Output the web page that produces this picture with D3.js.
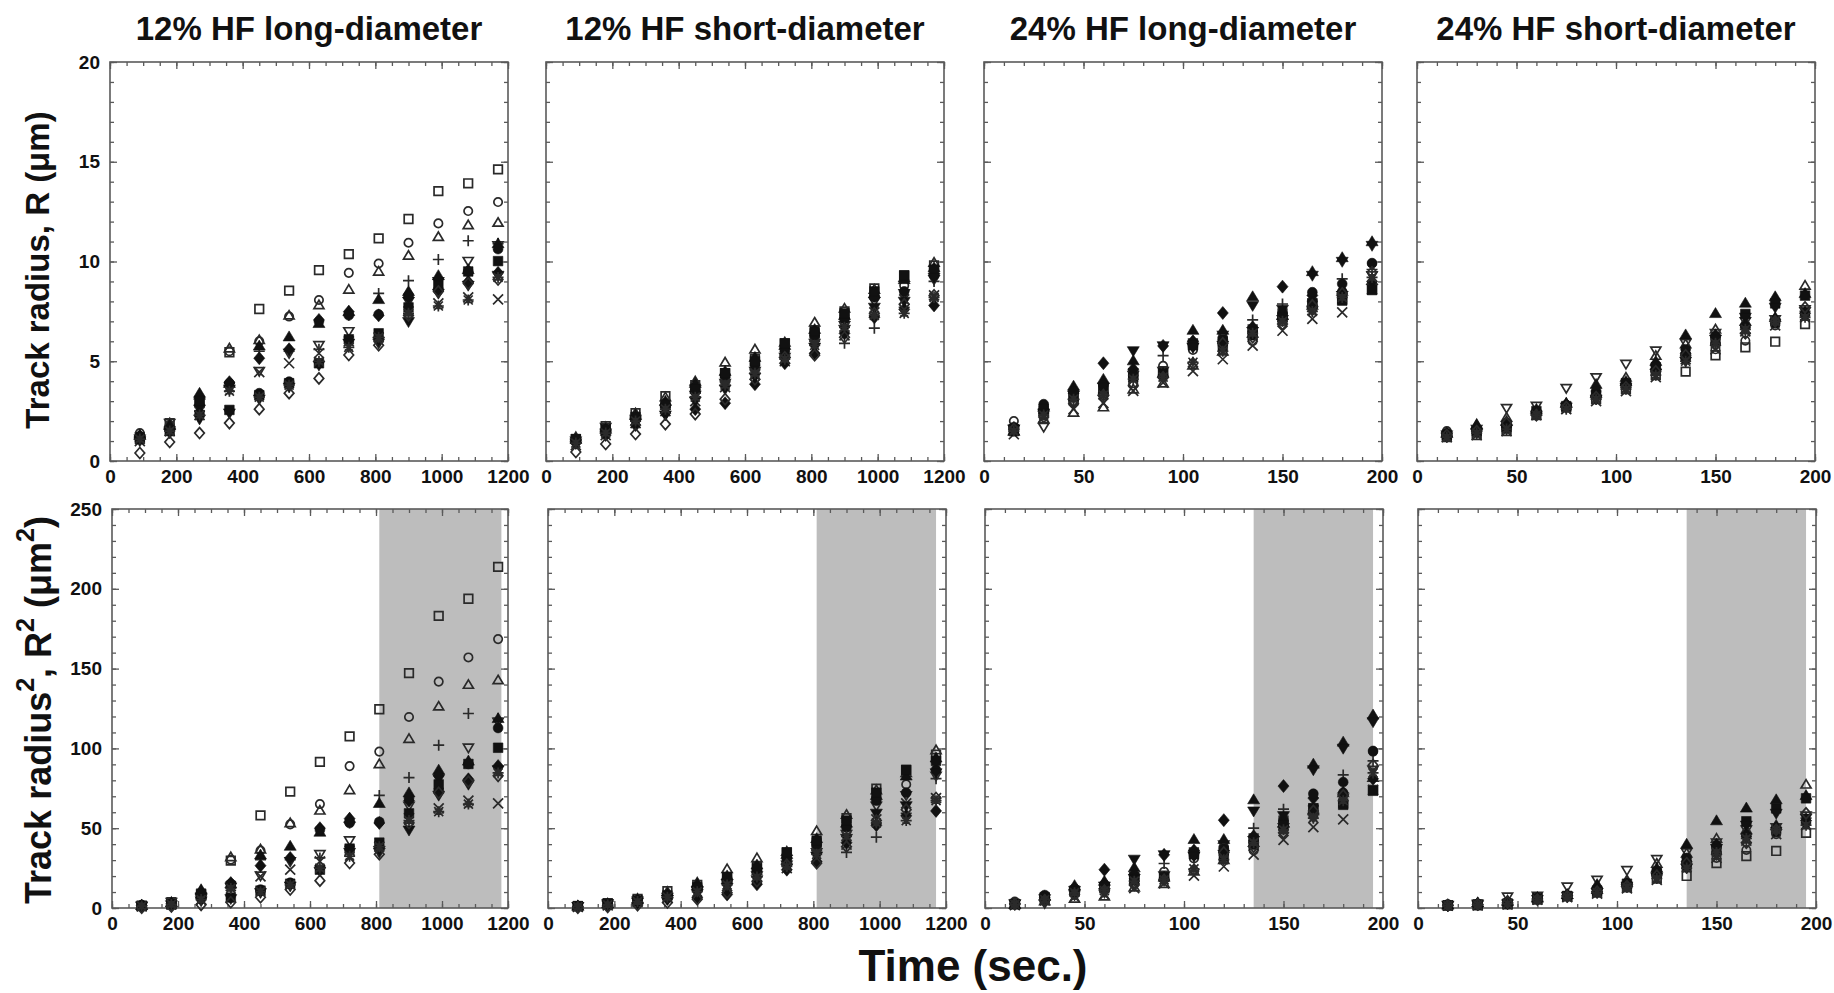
<!DOCTYPE html>
<html><head><meta charset="utf-8">
<script src="https://cdn.jsdelivr.net/npm/d3@7"></script>
<style>
body{margin:0;background:#fff}
text{font-family:"Liberation Sans",Arial,Helvetica,sans-serif;font-weight:bold;fill:#111}
</style>
</head><body>
<svg id="c" width="1834" height="993"></svg>
<script>
// ---------------- DATA ----------------
const timesLong  = [90,180,270,360,450,540,630,720,810,900,990,1080,1170];
const timesShort = [15,30,45,60,75,90,105,120,135,150,165,180,195];

// marker kind for each of the 13 tracks (same order in every panel)
const markers = ["squareOpen","circleOpen","triUpOpen","plus","triDownOpen","cross",
                 "triUpFilled","diamondFilled","circleFilled","squareFilled","triDownFilled",
                 "diamondOpen","asterisk"];

// Track radius R (µm), 12% HF long-diameter
const r12Long = [
 [1.2,1.9,2.9,5.45,7.62,8.54,9.57,10.37,11.16,12.13,13.53,13.92,14.62],
 [1.4,1.8,2.8,5.5,6.0,7.24,8.07,9.43,9.9,10.94,11.91,12.53,12.98],
 [1.3,1.9,3.3,5.65,6.07,7.3,7.82,8.6,9.5,10.3,11.24,11.83,11.95],
 [1.2,1.7,2.5,3.9,5.5,5.5,5.6,7.3,8.4,9.04,10.1,11.04,10.9],
 [1.1,1.9,2.6,3.6,4.5,5.4,5.8,6.5,5.9,8.0,9.0,10.02,10.8],
 [1.0,1.5,2.3,3.7,4.45,4.9,5.4,6.0,6.2,7.5,7.9,8.2,8.1],
 [1.3,1.8,3.4,3.9,5.77,6.23,6.9,7.5,8.1,8.5,9.3,9.6,10.9],
 [1.2,1.6,2.8,3.95,5.15,5.6,7.07,7.48,7.3,8.2,9.1,8.98,9.43],
 [1.25,1.6,2.4,3.9,3.4,3.98,7.0,7.3,7.35,8.3,8.6,9.5,10.62],
 [1.1,1.5,3.0,2.56,3.3,3.9,4.9,6.1,6.4,7.7,8.8,9.5,10.02],
 [1.0,1.4,2.1,2.4,3.1,3.7,4.8,5.9,6.0,6.98,8.4,8.8,9.3],
 [0.4,0.95,1.4,1.9,2.6,3.4,4.14,5.31,5.8,7.3,8.5,8.9,9.1],
 [1.1,1.5,2.3,3.5,3.2,3.8,5.0,5.7,6.2,7.4,7.77,8.07,9.2]
];
// 12% HF short-diameter
const r12Short = [
 [1.1,1.75,2.4,3.25,3.8,4.4,5.1,5.9,6.4,7.5,8.65,9.3,9.8],
 [1.0,1.6,2.2,2.9,3.6,4.2,4.9,5.6,6.2,7.2,8.3,8.8,9.6],
 [1.2,1.7,2.4,3.2,4.0,4.95,5.6,5.95,6.95,7.65,8.6,9.2,9.95],
 [0.9,1.5,2.0,2.7,3.4,4.0,4.6,5.3,6.0,5.9,6.66,7.7,9.0],
 [1.0,1.7,2.1,2.6,3.3,3.9,4.5,5.2,5.9,6.8,8.0,8.4,9.1],
 [0.8,1.3,1.9,2.5,3.0,3.7,4.3,5.0,5.6,6.3,7.45,8.1,8.3],
 [1.1,1.6,2.3,3.0,3.9,4.5,5.2,5.8,6.6,7.3,8.4,9.1,9.7],
 [0.9,1.3,1.8,2.4,2.6,2.9,3.85,4.9,5.4,6.4,7.2,7.6,7.8],
 [1.0,1.5,2.1,2.8,3.5,4.3,4.8,5.5,6.3,7.1,8.2,8.5,9.3],
 [1.1,1.6,2.2,2.8,3.6,4.4,5.0,5.9,6.5,7.4,8.5,9.3,9.6],
 [0.9,1.4,1.9,2.3,3.0,3.6,4.2,5.0,5.7,6.6,7.7,8.0,9.2],
 [0.45,0.85,1.35,1.85,2.35,3.1,4.1,5.2,5.3,6.2,7.4,7.85,8.3],
 [0.9,1.4,2.0,2.6,3.2,3.8,4.4,5.1,5.8,6.7,7.3,7.4,8.2]
];
// 24% HF long-diameter
const r24Long = [
 [1.6,2.5,3.3,3.5,4.4,4.5,5.9,6.0,6.6,7.4,7.9,8.1,8.6],
 [2.0,2.3,3.0,3.85,3.9,4.77,5.57,6.2,6.0,7.0,7.6,8.5,9.9],
 [1.5,2.1,2.43,2.7,3.6,3.9,4.8,5.5,6.4,7.3,7.8,8.5,9.04],
 [1.7,2.4,3.1,3.4,4.5,5.28,6.0,5.9,7.07,7.87,8.0,9.13,9.6],
 [1.6,1.7,2.9,3.1,4.3,4.5,5.7,6.3,6.5,7.1,7.54,8.3,9.3],
 [1.34,2.2,2.6,2.9,3.52,3.93,4.5,5.1,5.78,6.53,7.12,7.45,8.6],
 [1.5,2.7,3.76,4.1,5.03,4.4,6.56,6.56,8.24,7.3,9.5,10.2,11.0],
 [1.6,2.6,3.4,4.9,4.6,5.77,6.0,7.42,6.7,8.74,8.3,8.5,9.0],
 [1.7,2.85,3.5,3.8,4.3,4.3,5.8,6.1,6.5,7.4,8.46,8.88,9.92],
 [1.5,2.6,3.2,3.6,4.2,4.4,5.8,5.7,6.3,7.2,7.9,8.04,8.57],
 [1.6,2.4,3.3,3.7,5.52,5.77,5.7,5.8,7.79,7.6,9.3,10.0,10.8],
 [1.6,2.2,2.9,3.3,3.8,4.2,4.9,5.9,6.2,6.87,7.8,8.4,9.46],
 [1.5,2.3,3.1,3.3,4.1,4.2,4.95,5.5,6.4,7.0,7.5,8.2,9.2]
];
// 24% HF short-diameter
const r24Short = [
 [1.2,1.3,1.5,2.3,2.7,3.1,3.6,4.3,4.48,5.3,5.7,5.98,6.86],
 [1.5,1.6,1.7,2.4,2.8,3.3,3.8,4.5,5.2,5.6,6.03,6.8,7.4],
 [1.4,1.84,2.18,2.5,2.9,3.4,4.19,5.28,5.86,6.6,7.0,7.2,8.8],
 [1.3,1.5,1.7,2.4,2.8,3.2,3.8,4.6,5.3,5.9,6.4,7.1,7.5],
 [1.3,1.6,2.65,2.76,3.65,4.19,4.86,5.53,5.9,6.4,7.0,7.1,7.6],
 [1.2,1.3,1.5,2.3,2.6,3.0,3.5,4.2,5.1,5.6,6.5,6.8,7.2],
 [1.4,1.8,2.0,2.6,2.9,3.85,4.0,5.0,6.33,7.4,7.92,8.24,8.4],
 [1.3,1.5,1.8,2.4,2.8,3.2,3.8,4.6,5.4,6.3,6.8,7.1,7.4],
 [1.4,1.6,1.9,2.5,2.8,3.5,3.9,4.8,5.6,6.2,6.7,6.9,7.3],
 [1.3,1.5,1.7,2.5,2.75,3.3,3.9,4.7,5.2,6.0,7.37,7.9,8.29],
 [1.2,1.4,1.6,2.3,2.7,3.1,3.7,4.4,5.0,6.1,7.2,7.7,7.5],
 [1.3,1.5,1.9,2.3,2.7,3.2,3.7,4.5,5.3,5.8,6.4,7.0,7.7],
 [1.2,1.4,1.6,2.3,2.6,3.1,3.6,4.3,5.0,5.9,6.6,7.0,7.2]
];

const panelTitles = ["12% HF long-diameter","12% HF short-diameter","24% HF long-diameter","24% HF short-diameter"];
const xMajorLong  = [0,200,400,600,800,1000,1200];
const xMajorShort = [0,50,100,150,200];
const yMajorR  = [0,5,10,15,20];
const yMajorR2 = [0,50,100,150,200,250];
const shadeRanges = [[810,1180],[810,1170],[135,195],[135,195]];

// ---------------- LAYOUT ----------------
const svg = d3.select("#c");
const colX = [[110,546,984,1417],[112,548,985,1418]];
const PWs = [[398,398,398,398],[396,398,398,398]];
const rowY = [62,509], PH = 399;
const frameCol = "#5a5a5a";

const panelData = [r12Long, r12Short, r24Long, r24Short];
const panelTimes = [timesLong, timesLong, timesShort, timesShort];
const xDomains = [[0,1200],[0,1200],[0,200],[0,200]];
const xMajors = [xMajorLong,xMajorLong,xMajorShort,xMajorShort];
const xMinorStep = [50,50,10,10];

function markerPath(kind){
  const p = d3.path();
  switch(kind){
    case "squareOpen": p.rect(-4.3,-4.3,8.6,8.6); break;
    case "squareFilled": p.rect(-4.8,-4.8,9.6,9.6); break;
    case "circleOpen": p.moveTo(4.2,0); p.arc(0,0,4.2,0,2*Math.PI); p.closePath(); break;
    case "circleFilled": p.moveTo(4.9,0); p.arc(0,0,4.9,0,2*Math.PI); p.closePath(); break;
    case "triUpOpen":
      p.moveTo(0,-4.8); p.lineTo(5,3.6); p.lineTo(-5,3.6); p.closePath(); break;
    case "triUpFilled":
      p.moveTo(0,-5.8); p.lineTo(6,4.2); p.lineTo(-6,4.2); p.closePath(); break;
    case "triDownOpen":
      p.moveTo(0,4.8); p.lineTo(5,-3.6); p.lineTo(-5,-3.6); p.closePath(); break;
    case "triDownFilled":
      p.moveTo(0,5.8); p.lineTo(6,-4.2); p.lineTo(-6,-4.2); p.closePath(); break;
    case "diamondOpen":
      p.moveTo(0,-5.5); p.lineTo(4.8,0); p.lineTo(0,5.5); p.lineTo(-4.8,0); p.closePath(); break;
    case "diamondFilled":
      p.moveTo(0,-6.5); p.lineTo(5.5,0); p.lineTo(0,6.5); p.lineTo(-5.5,0); p.closePath(); break;
    case "plus":
      p.moveTo(-5.5,0); p.lineTo(5.5,0); p.moveTo(0,-5.5); p.lineTo(0,5.5); break;
    case "cross":
      p.moveTo(-5,-5); p.lineTo(5,5); p.moveTo(-5,5); p.lineTo(5,-5); break;
    case "asterisk":
      p.moveTo(-4.5,-4.5); p.lineTo(4.5,4.5); p.moveTo(-4.5,4.5); p.lineTo(4.5,-4.5);
      p.moveTo(-5.5,0); p.lineTo(5.5,0); p.moveTo(0,-5.5); p.lineTo(0,5.5);
      p.moveTo(-4,-2.5); p.lineTo(4,-2.5); p.moveTo(-4,2.5); p.lineTo(4,2.5); break;
  }
  return p.toString();
}
function isFilled(k){ return /Filled$/.test(k); }

function drawPanel(col,row){
  const x0 = colX[row][col], y0 = rowY[row], PW = PWs[row][col];
  const g = svg.append("g").attr("transform",`translate(${x0},${y0})`);
  const x = d3.scaleLinear().domain(xDomains[col]).range([0,PW]);
  const y = d3.scaleLinear().domain(row===0?[0,20]:[0,250]).range([PH,0]);
  const yMaj = row===0? yMajorR : yMajorR2;
  const yMinorStep = row===0? 1 : 10;
  const xMinor = d3.range(xDomains[col][0], xDomains[col][1]+0.001, xMinorStep[col]);
  const yMinor = d3.range(0, (row===0?20:250)+0.001, yMinorStep);

  if(row===1){
    const s = shadeRanges[col];
    g.append("rect").attr("x",x(s[0])).attr("y",0)
      .attr("width",x(s[1])-x(s[0])).attr("height",PH).attr("fill","#bdbdbd");
  }

  const styleAxis = sel => { sel.select(".domain").remove();
    sel.selectAll(".tick line").attr("stroke",frameCol).attr("stroke-width",1.3);
    sel.selectAll("text").style("font-size","19px").style("font-family",'"Liberation Sans",Arial,sans-serif')
       .style("font-weight","bold").attr("fill","#111"); };

  [[d3.axisBottom(x),`translate(0,${PH})`],[d3.axisTop(x),"translate(0,0)"]].forEach(([ax,tr],i)=>{
    g.append("g").attr("transform",tr)
     .call(ax.tickValues(xMinor).tickSizeInner(-4).tickSizeOuter(0).tickFormat(""))
     .call(styleAxis);
    g.append("g").attr("transform",tr)
     .call((i===0?d3.axisBottom(x):d3.axisTop(x)).tickValues(xMajors[col]).tickSizeInner(-7).tickSizeOuter(0)
        .tickPadding(9).tickFormat(i===0? d3.format("d") : ""))
     .call(styleAxis);
  });
  [[d3.axisLeft(y),"translate(0,0)",true],[d3.axisRight(y),`translate(${PW},0)`,false]].forEach(([ax,tr,left])=>{
    g.append("g").attr("transform",tr)
     .call(ax.tickValues(yMinor).tickSizeInner(-4).tickSizeOuter(0).tickFormat(""))
     .call(styleAxis);
    g.append("g").attr("transform",tr)
     .call((left?d3.axisLeft(y):d3.axisRight(y)).tickValues(yMaj).tickSizeInner(-7).tickSizeOuter(0)
        .tickPadding(10).tickFormat(left && col===0 ? d3.format("d") : ""))
     .call(styleAxis);
  });

  g.append("rect").attr("x",0).attr("y",0).attr("width",PW).attr("height",PH)
    .attr("fill","none").attr("stroke",frameCol).attr("stroke-width",1.6);

  const data = panelData[col], times = panelTimes[col];
  d3.range(markers.length).forEach(si=>{
    const kind = markers[si];
    const pts = times.map((t,i)=>({t, v: row===0? data[si][i] : data[si][i]*data[si][i]}));
    g.append("g").selectAll("path").data(pts).join("path")
      .attr("transform",d=>`translate(${x(d.t)},${y(d.v)})`)
      .attr("d",markerPath(kind))
      .attr("fill",isFilled(kind)?"#111":"none")
      .attr("stroke",isFilled(kind)?"#111":"#2a2a2a")
      .attr("stroke-width",isFilled(kind)?0.6:1.7);
  });

  if(row===0){
    svg.append("text").attr("x",x0+PW/2).attr("y",40).attr("text-anchor","middle")
      .style("font-size","33px").text(panelTitles[col]);
  }
}

for(let r=0;r<2;r++) for(let c=0;c<4;c++) drawPanel(c,r);

svg.append("text").attr("transform","translate(37,270) rotate(-90)")
  .attr("text-anchor","middle").attr("dominant-baseline","central")
  .style("font-size","33px").text("Track radius, R (μm)");
const yl2 = svg.append("text").attr("transform","translate(38,710) rotate(-90)")
  .attr("text-anchor","middle").attr("dominant-baseline","central").style("font-size","36px");
[["Track radius",false],["2",true],[", R",false],["2",true],[" (μm",false],["2",true],[")",false]].forEach(([t,sup])=>{
  const ts = yl2.append("tspan").text(t);
  if(sup){ ts.style("font-size","25px").attr("dy",-13); }
  else if(t!=="Track radius"){ ts.attr("dy",13); }
});

svg.append("text").attr("x",973).attr("y",981).attr("text-anchor","middle")
  .style("font-size","44px").text("Time (sec.)");
</script>
</body></html>
